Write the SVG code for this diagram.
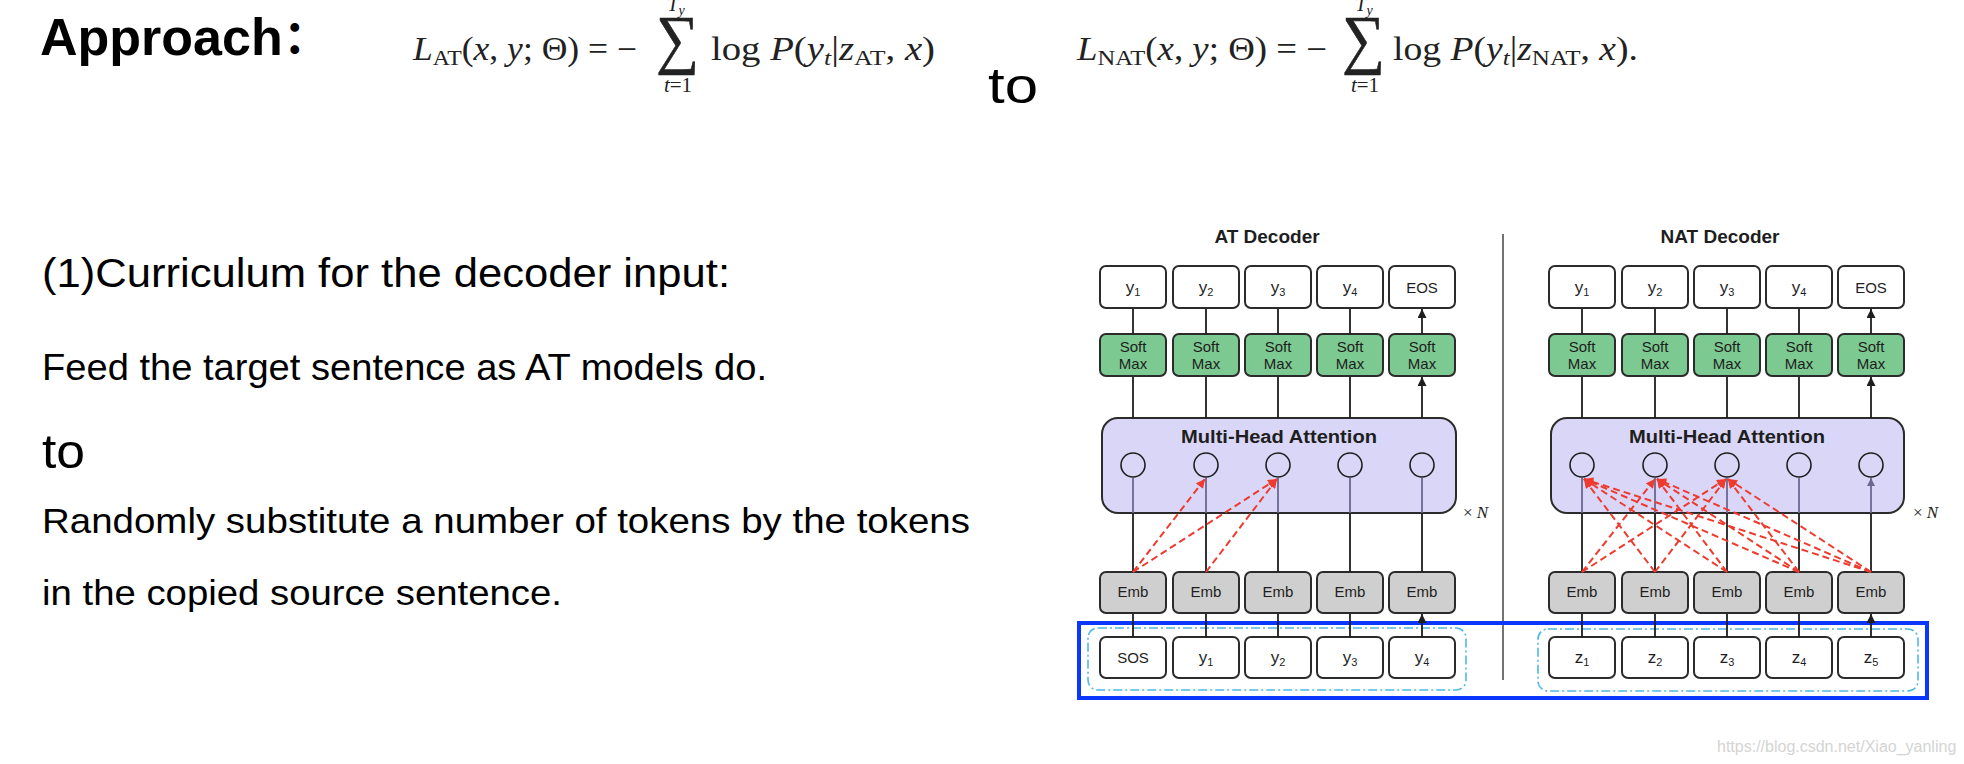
<svg xmlns="http://www.w3.org/2000/svg" width="1964" height="764" viewBox="0 0 1964 764">
<defs>
<style>
.math{font-family:"Liberation Serif","Times New Roman",serif;fill:#222}
.it{font-style:italic}
.slide{font-family:"Liberation Sans",Arial,sans-serif;fill:#000}
.box{stroke:#2b2b2b;stroke-width:2}
.out{fill:#fff}
.soft{fill:#7cc991}
.emb{fill:#d0cfcf}
.mha{fill:#dad6f8;stroke:#2b2b2b;stroke-width:2}
.circ{fill:none;stroke:#1e1e1e;stroke-width:1.6}
.lbl{font-family:"Liberation Sans",Arial,sans-serif;font-size:15px;fill:#1e1e1e;text-anchor:middle}
.yl{font-size:17px}
.sub{font-size:11px}
.ttl{font-family:"Liberation Sans",Arial,sans-serif;font-weight:bold;fill:#1e1e1e;text-anchor:middle}
.arr{stroke:#1e1e1e;stroke-width:1.8;fill:none;marker-end:url(#ah)}
.ln{stroke:#1e1e1e;stroke-width:1.8}
.parr{stroke:#6c6890;stroke-width:1.8;marker-end:url(#ahp)}
.red{stroke:#ef3b2f;stroke-width:2;stroke-dasharray:7 4;fill:none;marker-end:url(#ahr)}
.cyan{fill:none;stroke:#4fb8e8;stroke-width:1.6;stroke-dasharray:9 3 2 3}
.sig{font-family:"Liberation Serif","Times New Roman",serif;fill:#222;stroke:#222;stroke-width:0.6}
</style>
<marker id="ah" viewBox="0 0 10 10" refX="10" refY="5" markerWidth="10" markerHeight="9" markerUnits="userSpaceOnUse" orient="auto"><path d="M0,0 L10,5 L0,10 z" fill="#1e1e1e"/></marker>
<marker id="ahp" viewBox="0 0 10 10" refX="10" refY="5" markerWidth="9" markerHeight="8" markerUnits="userSpaceOnUse" orient="auto"><path d="M0,0 L10,5 L0,10 z" fill="#6c6890"/></marker>
<marker id="ahr" viewBox="0 0 10 10" refX="10" refY="5" markerWidth="10" markerHeight="9" markerUnits="userSpaceOnUse" orient="auto"><path d="M0,0 L10,5 L0,10 z" fill="#ef3b2f"/></marker>
</defs>
<rect width="1964" height="764" fill="#fff"/>

<g id="heading">
<text class="slide" x="40" y="55" font-size="52" font-weight="bold">Approach<tspan dx="-11" font-family="'Noto Sans CJK JP',sans-serif" font-size="46">：</tspan></text>
</g>

<g id="formula-at">
<text class="math" x="413" y="60" font-size="33" textLength="224" lengthAdjust="spacingAndGlyphs"><tspan class="it">L</tspan><tspan font-size="22" dy="5">AT</tspan><tspan dy="-5">(</tspan><tspan class="it">x</tspan>, <tspan class="it">y</tspan>; Θ) = −</text>
<text class="sig" x="656" y="61" font-size="66" textLength="43" lengthAdjust="spacingAndGlyphs">∑</text>
<text class="math" x="678" y="92" font-size="21" text-anchor="middle"><tspan class="it">t</tspan>=1</text>
<text class="math" x="676" y="11" font-size="20" text-anchor="middle"><tspan class="it">T</tspan><tspan class="it" font-size="14" dy="4">y</tspan></text>
<text class="math" x="711" y="60" font-size="33" textLength="224" lengthAdjust="spacingAndGlyphs">log <tspan class="it">P</tspan>(<tspan class="it">y</tspan><tspan class="it" font-size="22" dy="5">t</tspan><tspan dy="-5">|</tspan><tspan class="it">z</tspan><tspan font-size="22" dy="5">AT</tspan><tspan dy="-5">, </tspan><tspan class="it">x</tspan>)</text>
</g>

<g id="to-top">
<text class="slide" x="988" y="103" font-size="50" textLength="50" lengthAdjust="spacingAndGlyphs">to</text>
</g>

<g id="formula-nat">
<text class="math" x="1077" y="60" font-size="33" textLength="250" lengthAdjust="spacingAndGlyphs"><tspan class="it">L</tspan><tspan font-size="22" dy="5">NAT</tspan><tspan dy="-5">(</tspan><tspan class="it">x</tspan>, <tspan class="it">y</tspan>; Θ) = −</text>
<text class="sig" x="1342" y="61" font-size="66" textLength="43" lengthAdjust="spacingAndGlyphs">∑</text>
<text class="math" x="1365" y="92" font-size="21" text-anchor="middle"><tspan class="it">t</tspan>=1</text>
<text class="math" x="1364" y="11" font-size="20" text-anchor="middle"><tspan class="it">T</tspan><tspan class="it" font-size="14" dy="4">y</tspan></text>
<text class="math" x="1393" y="60" font-size="33" textLength="245" lengthAdjust="spacingAndGlyphs">log <tspan class="it">P</tspan>(<tspan class="it">y</tspan><tspan class="it" font-size="22" dy="5">t</tspan><tspan dy="-5">|</tspan><tspan class="it">z</tspan><tspan font-size="22" dy="5">NAT</tspan><tspan dy="-5">, </tspan><tspan class="it">x</tspan>).</text>
</g>

<g id="left-text">
<text class="slide" x="42" y="287" font-size="40" textLength="688" lengthAdjust="spacingAndGlyphs">(1)Curriculum for the decoder input:</text>
<text class="slide" x="42" y="380" font-size="37" textLength="725" lengthAdjust="spacingAndGlyphs">Feed the target sentence as AT models do.</text>
<text class="slide" x="42" y="468" font-size="48" textLength="43" lengthAdjust="spacingAndGlyphs">to</text>
<text class="slide" x="42" y="533" font-size="35" textLength="928" lengthAdjust="spacingAndGlyphs">Randomly substitute a number of tokens by the tokens</text>
<text class="slide" x="42" y="605" font-size="35" textLength="520" lengthAdjust="spacingAndGlyphs">in the copied source sentence.</text>
</g>

<g id="titles">
<text class="ttl" x="1267" y="243" font-size="19">AT Decoder</text>
<text class="ttl" x="1720" y="243" font-size="19">NAT Decoder</text>
<line x1="1503" y1="234" x2="1503" y2="680" stroke="#444" stroke-width="1.5"/>
<text class="math" x="1463" y="518" font-size="17">× <tspan class="it">N</tspan></text>
<text class="math" x="1913" y="518" font-size="17">× <tspan class="it">N</tspan></text>
</g>

<!-- AT decoder nodes -->
<g id="at-out-1"><rect class="box out" x="1100" y="266" width="66" height="42" rx="6"/><text class="lbl yl" x="1133" y="293">y<tspan class="sub" dy="3">1</tspan></text></g>
<g id="at-out-2"><rect class="box out" x="1173" y="266" width="66" height="42" rx="6"/><text class="lbl yl" x="1206" y="293">y<tspan class="sub" dy="3">2</tspan></text></g>
<g id="at-out-3"><rect class="box out" x="1245" y="266" width="66" height="42" rx="6"/><text class="lbl yl" x="1278" y="293">y<tspan class="sub" dy="3">3</tspan></text></g>
<g id="at-out-4"><rect class="box out" x="1317" y="266" width="66" height="42" rx="6"/><text class="lbl yl" x="1350" y="293">y<tspan class="sub" dy="3">4</tspan></text></g>
<g id="at-out-5"><rect class="box out" x="1389" y="266" width="66" height="42" rx="6"/><text class="lbl" x="1422" y="293">EOS</text></g>

<g id="at-soft-1"><rect class="box soft" x="1100" y="334" width="66" height="42" rx="6"/><text class="lbl" x="1133" y="352">Soft</text><text class="lbl" x="1133" y="369">Max</text></g>
<g id="at-soft-2"><rect class="box soft" x="1173" y="334" width="66" height="42" rx="6"/><text class="lbl" x="1206" y="352">Soft</text><text class="lbl" x="1206" y="369">Max</text></g>
<g id="at-soft-3"><rect class="box soft" x="1245" y="334" width="66" height="42" rx="6"/><text class="lbl" x="1278" y="352">Soft</text><text class="lbl" x="1278" y="369">Max</text></g>
<g id="at-soft-4"><rect class="box soft" x="1317" y="334" width="66" height="42" rx="6"/><text class="lbl" x="1350" y="352">Soft</text><text class="lbl" x="1350" y="369">Max</text></g>
<g id="at-soft-5"><rect class="box soft" x="1389" y="334" width="66" height="42" rx="6"/><text class="lbl" x="1422" y="352">Soft</text><text class="lbl" x="1422" y="369">Max</text></g>

<g id="at-mha">
<rect class="mha" x="1102" y="418" width="354" height="95" rx="16"/>
<text class="ttl" x="1279" y="443" font-size="18" textLength="196" lengthAdjust="spacingAndGlyphs">Multi-Head Attention</text>
<circle class="circ" cx="1133" cy="465" r="12"/><circle class="circ" cx="1206" cy="465" r="12"/><circle class="circ" cx="1278" cy="465" r="12"/><circle class="circ" cx="1350" cy="465" r="12"/><circle class="circ" cx="1422" cy="465" r="12"/>
</g>

<g id="at-emb-1"><rect class="box emb" x="1100" y="572" width="66" height="41" rx="6"/><text class="lbl" x="1133" y="597" font-size="16">Emb</text></g>
<g id="at-emb-2"><rect class="box emb" x="1173" y="572" width="66" height="41" rx="6"/><text class="lbl" x="1206" y="597" font-size="16">Emb</text></g>
<g id="at-emb-3"><rect class="box emb" x="1245" y="572" width="66" height="41" rx="6"/><text class="lbl" x="1278" y="597" font-size="16">Emb</text></g>
<g id="at-emb-4"><rect class="box emb" x="1317" y="572" width="66" height="41" rx="6"/><text class="lbl" x="1350" y="597" font-size="16">Emb</text></g>
<g id="at-emb-5"><rect class="box emb" x="1389" y="572" width="66" height="41" rx="6"/><text class="lbl" x="1422" y="597" font-size="16">Emb</text></g>

<g id="at-in-1"><rect class="box out" x="1100" y="637" width="66" height="41" rx="6"/><text class="lbl" x="1133" y="663" font-size="14">SOS</text></g>
<g id="at-in-2"><rect class="box out" x="1173" y="637" width="66" height="41" rx="6"/><text class="lbl yl" x="1206" y="663">y<tspan class="sub" dy="3">1</tspan></text></g>
<g id="at-in-3"><rect class="box out" x="1245" y="637" width="66" height="41" rx="6"/><text class="lbl yl" x="1278" y="663">y<tspan class="sub" dy="3">2</tspan></text></g>
<g id="at-in-4"><rect class="box out" x="1317" y="637" width="66" height="41" rx="6"/><text class="lbl yl" x="1350" y="663">y<tspan class="sub" dy="3">3</tspan></text></g>
<g id="at-in-5"><rect class="box out" x="1389" y="637" width="66" height="41" rx="6"/><text class="lbl yl" x="1422" y="663">y<tspan class="sub" dy="3">4</tspan></text></g>

<!-- NAT decoder nodes -->
<g id="nat-out-1"><rect class="box out" x="1549" y="266" width="66" height="42" rx="6"/><text class="lbl yl" x="1582" y="293">y<tspan class="sub" dy="3">1</tspan></text></g>
<g id="nat-out-2"><rect class="box out" x="1622" y="266" width="66" height="42" rx="6"/><text class="lbl yl" x="1655" y="293">y<tspan class="sub" dy="3">2</tspan></text></g>
<g id="nat-out-3"><rect class="box out" x="1694" y="266" width="66" height="42" rx="6"/><text class="lbl yl" x="1727" y="293">y<tspan class="sub" dy="3">3</tspan></text></g>
<g id="nat-out-4"><rect class="box out" x="1766" y="266" width="66" height="42" rx="6"/><text class="lbl yl" x="1799" y="293">y<tspan class="sub" dy="3">4</tspan></text></g>
<g id="nat-out-5"><rect class="box out" x="1838" y="266" width="66" height="42" rx="6"/><text class="lbl" x="1871" y="293">EOS</text></g>

<g id="nat-soft-1"><rect class="box soft" x="1549" y="334" width="66" height="42" rx="6"/><text class="lbl" x="1582" y="352">Soft</text><text class="lbl" x="1582" y="369">Max</text></g>
<g id="nat-soft-2"><rect class="box soft" x="1622" y="334" width="66" height="42" rx="6"/><text class="lbl" x="1655" y="352">Soft</text><text class="lbl" x="1655" y="369">Max</text></g>
<g id="nat-soft-3"><rect class="box soft" x="1694" y="334" width="66" height="42" rx="6"/><text class="lbl" x="1727" y="352">Soft</text><text class="lbl" x="1727" y="369">Max</text></g>
<g id="nat-soft-4"><rect class="box soft" x="1766" y="334" width="66" height="42" rx="6"/><text class="lbl" x="1799" y="352">Soft</text><text class="lbl" x="1799" y="369">Max</text></g>
<g id="nat-soft-5"><rect class="box soft" x="1838" y="334" width="66" height="42" rx="6"/><text class="lbl" x="1871" y="352">Soft</text><text class="lbl" x="1871" y="369">Max</text></g>

<g id="nat-mha">
<rect class="mha" x="1551" y="418" width="353" height="95" rx="16"/>
<text class="ttl" x="1727" y="443" font-size="18" textLength="196" lengthAdjust="spacingAndGlyphs">Multi-Head Attention</text>
<circle class="circ" cx="1582" cy="465" r="12"/><circle class="circ" cx="1655" cy="465" r="12"/><circle class="circ" cx="1727" cy="465" r="12"/><circle class="circ" cx="1799" cy="465" r="12"/><circle class="circ" cx="1871" cy="465" r="12"/>
</g>

<g id="nat-emb-1"><rect class="box emb" x="1549" y="572" width="66" height="41" rx="6"/><text class="lbl" x="1582" y="597" font-size="16">Emb</text></g>
<g id="nat-emb-2"><rect class="box emb" x="1622" y="572" width="66" height="41" rx="6"/><text class="lbl" x="1655" y="597" font-size="16">Emb</text></g>
<g id="nat-emb-3"><rect class="box emb" x="1694" y="572" width="66" height="41" rx="6"/><text class="lbl" x="1727" y="597" font-size="16">Emb</text></g>
<g id="nat-emb-4"><rect class="box emb" x="1766" y="572" width="66" height="41" rx="6"/><text class="lbl" x="1799" y="597" font-size="16">Emb</text></g>
<g id="nat-emb-5"><rect class="box emb" x="1838" y="572" width="66" height="41" rx="6"/><text class="lbl" x="1871" y="597" font-size="16">Emb</text></g>

<g id="nat-in-1"><rect class="box out" x="1549" y="637" width="66" height="41" rx="6"/><text class="lbl yl" x="1582" y="663">z<tspan class="sub" dy="3">1</tspan></text></g>
<g id="nat-in-2"><rect class="box out" x="1622" y="637" width="66" height="41" rx="6"/><text class="lbl yl" x="1655" y="663">z<tspan class="sub" dy="3">2</tspan></text></g>
<g id="nat-in-3"><rect class="box out" x="1694" y="637" width="66" height="41" rx="6"/><text class="lbl yl" x="1727" y="663">z<tspan class="sub" dy="3">3</tspan></text></g>
<g id="nat-in-4"><rect class="box out" x="1766" y="637" width="66" height="41" rx="6"/><text class="lbl yl" x="1799" y="663">z<tspan class="sub" dy="3">4</tspan></text></g>
<g id="nat-in-5"><rect class="box out" x="1838" y="637" width="66" height="41" rx="6"/><text class="lbl yl" x="1871" y="663">z<tspan class="sub" dy="3">5</tspan></text></g>

<g id="input-frames">
<rect class="cyan" x="1088" y="628" width="378" height="62" rx="10"/>
<rect class="cyan" x="1538" y="629" width="380" height="62" rx="10"/>
<rect x="1079" y="623" width="848" height="75" fill="none" stroke="#0a36ff" stroke-width="4"/>
</g>

<g id="connectors">
<path class="arr" d="M1133,334V309M1206,334V309M1278,334V309M1350,334V309M1422,334V309"/>
<path class="arr" d="M1582,334V309M1655,334V309M1727,334V309M1799,334V309M1871,334V309"/>
<path class="arr" d="M1133,418V377M1206,418V377M1278,418V377M1350,418V377M1422,418V377"/>
<path class="arr" d="M1582,418V377M1655,418V377M1727,418V377M1799,418V377M1871,418V377"/>
<path class="arr" d="M1133,637V614M1206,637V614M1278,637V614M1350,637V614M1422,637V614"/>
<path class="arr" d="M1582,637V614M1655,637V614M1727,637V614M1799,637V614M1871,637V614"/>
<path class="ln" d="M1133,572V513M1206,572V513M1278,572V513M1350,572V513M1422,572V513M1582,572V513M1655,572V513M1727,572V513M1799,572V513M1871,572V513"/>
<path class="parr" d="M1133,513V478M1206,513V478M1278,513V478M1350,513V478M1422,513V478M1582,513V478M1655,513V478M1727,513V478M1799,513V478M1871,513V478"/>
<path class="red" d="M1133,572L1205,479"/>
<path class="red" d="M1133,572L1277,479"/>
<path class="red" d="M1206,572L1277,479"/>
<path class="red" d="M1655,572L1584,479"/>
<path class="red" d="M1727,572L1584,479"/>
<path class="red" d="M1799,572L1584,479"/>
<path class="red" d="M1871,572L1584,479"/>
<path class="red" d="M1582,572L1655,479"/>
<path class="red" d="M1727,572L1657,479"/>
<path class="red" d="M1799,572L1657,479"/>
<path class="red" d="M1871,572L1657,479"/>
<path class="red" d="M1582,572L1726,479"/>
<path class="red" d="M1655,572L1726,479"/>
<path class="red" d="M1799,572L1728,479"/>
<path class="red" d="M1871,572L1728,479"/>
</g>

<text x="1717" y="752" font-family="'Liberation Sans',Arial,sans-serif" font-size="16" fill="#d4d4d4">https://blog.csdn.net/Xiao_yanling</text>
</svg>
